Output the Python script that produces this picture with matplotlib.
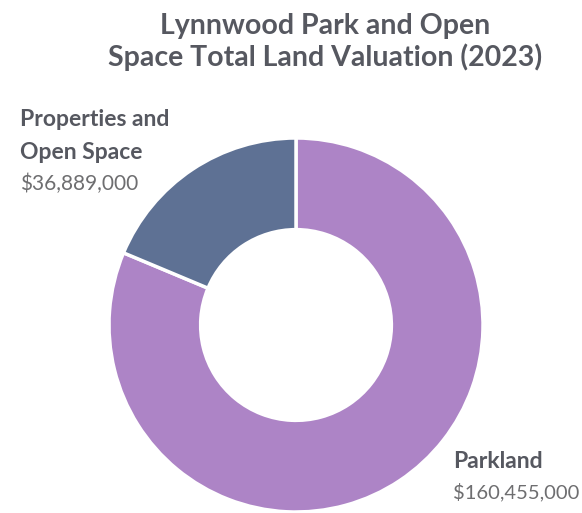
import matplotlib.pyplot as plt

plt.rcParams['font.family'] = ['Lato', 'DejaVu Sans']

labels = ['Parkland', 'Properties and\nOpen Space']
values = [160455000, 36889000]
colors = ['#ad84c6', '#5e7194']

W, H = 582, 513
fig = plt.figure(figsize=(W / 100, H / 100), dpi=100)

# donut: centre (296, 325) px, outer radius 187 px
cx, cy, r = 296, 325, 187
ax = fig.add_axes([(cx - r) / W, (H - cy - r) / H, 2 * r / W, 2 * r / H])
ax.pie(values, colors=colors, startangle=90, counterclock=False, radius=1,
       wedgeprops=dict(width=0.49, edgecolor='white', linewidth=2.5))
ax.set_xlim(-1, 1)
ax.set_ylim(-1, 1)
ax.set_aspect('auto')
ax.axis('off')

title_col = '#565860'
fig.text(325 / W, 1 - 42 / H, 'Lynnwood Park and Open\nSpace Total Land Valuation (2023)',
         ha='center', va='center', fontsize=20.5, fontweight='bold',
         color=title_col, linespacing=1.18)

fig.text(20 / W, 1 - 136 / H, labels[1], ha='left', va='center',
         fontsize=16.5, fontweight='bold', color=title_col, linespacing=1.65)
fig.text(20 / W, 1 - 184 / H, '${:,}'.format(values[1]), ha='left', va='center',
         fontsize=15, color='#6e6e70')

fig.text(453 / W, 1 - 461 / H, labels[0], ha='left', va='center',
         fontsize=16.5, fontweight='bold', color=title_col)
fig.text(453 / W, 1 - 492 / H, '${:,}'.format(values[0]), ha='left', va='center',
         fontsize=14.5, color='#6e6e70')

fig.savefig('out.png', dpi=100)
